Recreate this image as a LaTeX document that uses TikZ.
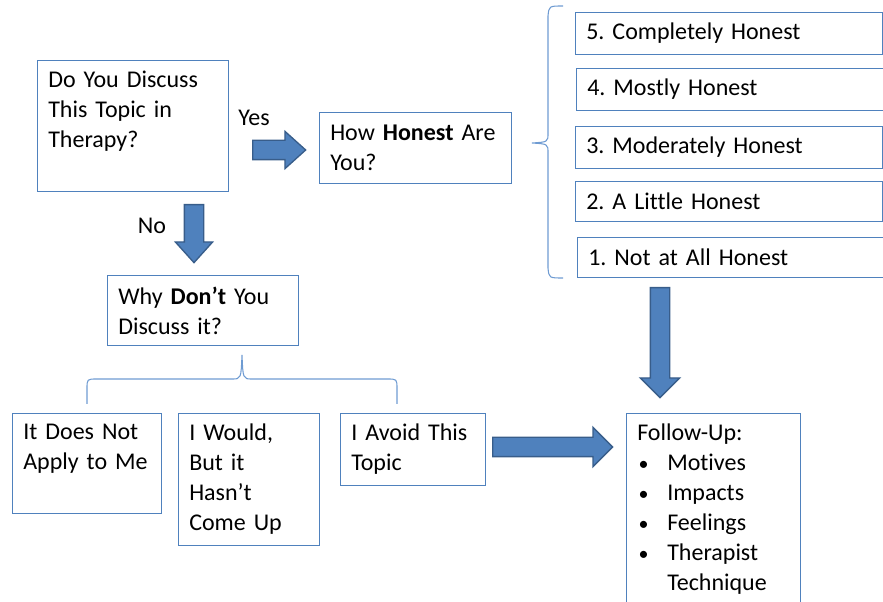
\documentclass[tikz,border=0pt]{standalone}
\usepackage{fontspec}
\setmainfont[Ligatures=NoCommon]{Carlito}
\usepackage{tikz}
\usetikzlibrary{shapes.arrows}
\definecolor{boxedge}{RGB}{79,129,189}
\definecolor{braceedge}{RGB}{110,155,210}
\definecolor{arrowfill}{RGB}{79,129,189}
\definecolor{arrowedge}{RGB}{56,93,138}
\frenchspacing
\newcommand{\itembullet}{\makebox[22.5pt][l]{\hspace{1pt}{\fontsize{15}{15}\selectfont\textbullet}}}

\begin{document}
\begin{tikzpicture}[
  x=0.75pt,y=-0.75pt,
  font=\fontsize{18}{22.5}\selectfont,
  qbox/.style={draw=boxedge,line width=0.9pt,anchor=north west,align=left,
    inner xsep=8pt,inner ysep=8pt},
  hbox/.style={qbox,text width=214pt,minimum height=30pt},
  brace/.style={draw=braceedge,line width=0.8pt},
  bigarrow/.style={single arrow,draw=arrowedge,fill=arrowfill,line width=1pt,
    inner sep=6.75pt,minimum width=0pt,single arrow head extend=6.75pt,
    single arrow tip angle=84,anchor=tail},
  answer/.style={inner sep=0pt}
]
\useasboundingbox (0,0) rectangle (883,602);

% -------------------------------------------------------------------------
% first question and the yes branch
% -------------------------------------------------------------------------
\node[qbox,text width=127.25pt,text depth=70pt] (discuss) at (37,60)
  {Do You Discuss\\This Topic in\\Therapy?};
\node[answer] (yes) at (254,118) {Yes};
\node[bigarrow,minimum height=39.75pt] (yesarrow) at (252,150) {};
\node[qbox,text width=128pt,minimum height=53.25pt] (honest) at (319,112)
  {How \textbf{Honest} Are\\You?};

\draw[brace] (563,6) .. controls (549,6) .. (548,16) -- (548,133)
  .. controls (548,142) .. (532,143) .. controls (548,144) .. (548,153)
  -- (548,268) .. controls (549,278) .. (563,278);

\foreach \n/\x/\y/\txt in {5/575/12/Completely Honest,4/576/68/Mostly Honest,
  3/575/126/Moderately Honest,2/575/181/A Little Honest,1/577/237/Not at All Honest}
  {\node[hbox] (h\n) at (\x,\y) {\n. \txt};}

% -------------------------------------------------------------------------
% the no branch
% -------------------------------------------------------------------------
\node[answer] (no) at (152,226) {No};
\node[bigarrow,minimum height=43.5pt,shape border rotate=270] (noarrow) at (194,204) {};
\node[qbox,text width=127.25pt,minimum height=52.5pt] (why) at (107,275)
  {Why \textbf{Don’t} You\\Discuss it?};

\draw[brace] (87,404) -- (87,389) .. controls (87,379) .. (97,379) -- (232,379)
  .. controls (241,379) .. (242,355) .. controls (243,379) .. (252,379)
  -- (387,379) .. controls (397,379) .. (397,389) -- (397,404);

\node[qbox,text width=95.75pt,text depth=47.5pt] (notapply) at (12,413)
  {It Does Not\\Apply to Me};
\node[qbox,text width=89.75pt,minimum height=97.5pt] (notyet) at (178,413)
  {I Would,\\But it\\Hasn’t\\Come Up};
\node[qbox,text width=92.75pt,minimum height=52.5pt] (avoid) at (340,413)
  {I Avoid This\\Topic};

% -------------------------------------------------------------------------
% follow-up
% -------------------------------------------------------------------------
\node[bigarrow,minimum height=90pt,single arrow head extend=7.5pt,
  single arrow tip angle=90] (avoidarrow) at (492,447) {};
\node[bigarrow,minimum height=82.5pt,single arrow head extend=7.5pt,
  single arrow tip angle=90,shape border rotate=270] (honestarrow) at (660,287) {};
\node[qbox,text width=114.5pt,text depth=126pt] (followup) at (626,413)
  {Follow-Up:\\
   \itembullet Motives\\
   \itembullet Impacts\\
   \itembullet Feelings\\
   \itembullet Therapist\\
   \hspace*{22.5pt}Technique};
\end{tikzpicture}
\end{document}
